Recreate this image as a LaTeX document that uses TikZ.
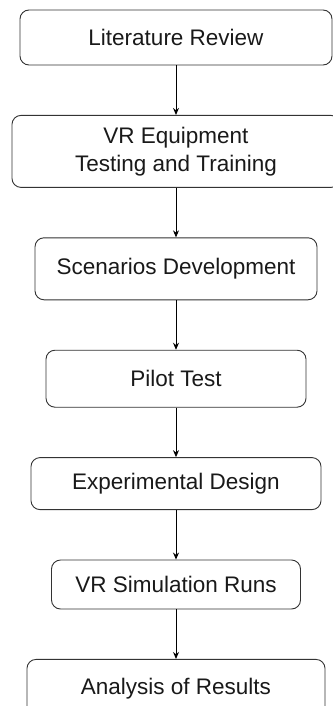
\documentclass[tikz,border=0pt]{standalone}
\usepackage{fontspec}
\setmainfont{Liberation Sans}
\usetikzlibrary{arrows.meta,positioning}

\begin{document}
\begin{tikzpicture}[->,>={Stealth[length=7pt,width=6pt]},node distance=49.5pt,line width=0.9pt,
  stage/.style={draw=black!80,rounded corners=9pt,align=center,inner sep=0pt,
    text=black!90,font=\fontsize{22.5}{28}\selectfont}]
  \useasboundingbox (0,0) rectangle (332pt,-706pt);

  \node[stage,minimum width=312pt,minimum height=55pt] (lit) at (176pt,-37.5pt) {Literature Review};
  \node[stage,minimum width=328pt,minimum height=72pt] (equip) [below=of lit]   {VR Equipment\\Testing and Training};
  \node[stage,minimum width=282pt,minimum height=62pt] (scen)  [below=of equip] {Scenarios Development};
  \node[stage,minimum width=260pt,minimum height=57pt] (pilot) [below=of scen]  {Pilot Test};
  \node[stage,minimum width=290pt,minimum height=52pt] (design) [below=of pilot] {Experimental Design};
  \node[stage,minimum width=249pt,minimum height=49pt] (runs)  [below=of design] {VR Simulation Runs};
  \node[stage,minimum width=298pt,minimum height=58pt] (anal)  [below=of runs]  {Analysis of Results};

  \path (lit)    edge (equip)
        (equip)  edge (scen)
        (scen)   edge (pilot)
        (pilot)  edge (design)
        (design) edge (runs)
        (runs)   edge (anal);
\end{tikzpicture}
\end{document}
